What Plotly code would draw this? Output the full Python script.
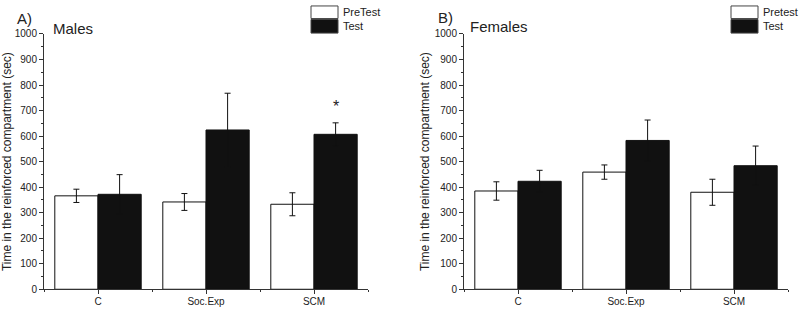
import plotly.graph_objects as go

categories = ["C", "Soc.Exp", "SCM"]

males_pre = [366, 342, 333]
males_pre_err = [26, 33, 45]
males_test = [372, 624, 607]
males_test_err = [77, 144, 45]

females_pre = [385, 459, 380]
females_pre_err = [36, 28, 51]
females_test = [423, 583, 484]
females_test_err = [43, 80, 77]

y_ticks = list(range(0, 1001, 100))
star_y = 716

x_pos = list(range(len(categories)))
FONT = "Liberation Sans, Arial, sans-serif"

fig = go.Figure()

def add_panel(pre, pre_err, test, test_err, xa, ya):
    fig.add_trace(go.Bar(
        x=x_pos, y=pre, xaxis=xa, yaxis=ya, width=0.4, offset=-0.4,
        marker=dict(color="white", line=dict(color="#111", width=1)),
        error_y=dict(type="data", array=pre_err, color="#111", thickness=1, width=3),
        showlegend=False))
    fig.add_trace(go.Bar(
        x=x_pos, y=test, xaxis=xa, yaxis=ya, width=0.4, offset=0.0,
        marker=dict(color="#111111", line=dict(color="#111", width=1)),
        error_y=dict(type="data", array=test_err, color="#111", thickness=1, width=3),
        showlegend=False))

add_panel(males_pre, males_pre_err, males_test, males_test_err, "x", "y")
add_panel(females_pre, females_pre_err, females_test, females_test_err, "x2", "y2")

ydom = [0.0587, 0.904]
xcommon = dict(
    range=[-0.5, 2.5], tickmode="array", tickvals=x_pos, ticktext=categories,
    showline=True, linecolor="#333", linewidth=1, ticks="outside", ticklen=4,
    tickcolor="#333", showgrid=False, zeroline=False, ticklabelstandoff=-1,
    tickfont=dict(family=FONT, size=10, color="#222"),
    minor=dict(tickmode="linear", tick0=0.5, dtick=1, ticks="outside", ticklen=2,
               tickcolor="#333", showgrid=False),
)
ycommon = dict(
    range=[0, 1000], tickmode="array", tickvals=y_ticks,
    showline=True, linecolor="#333", linewidth=1, ticks="outside", ticklen=4,
    tickcolor="#333", showgrid=False, zeroline=False,
    tickfont=dict(family=FONT, size=10, color="#222"),
    minor=dict(tickmode="linear", tick0=50, dtick=100, ticks="outside", ticklen=2,
               tickcolor="#333", showgrid=False),
    title=dict(text="Time in the reinforced compartment (sec)",
               font=dict(family=FONT, size=12, color="#222"), standoff=2),
)

fig.update_layout(
    width=800, height=312, margin=dict(l=0, r=0, t=0, b=0),
    paper_bgcolor="white", plot_bgcolor="white", barmode="overlay",
    xaxis=dict(domain=[0.055, 0.46], anchor="y", **xcommon),
    yaxis=dict(domain=ydom, anchor="x", **ycommon),
    xaxis2=dict(domain=[0.58, 0.985], anchor="y2", **xcommon),
    yaxis2=dict(domain=ydom, anchor="x2", **ycommon),
    font=dict(family=FONT, color="#222"),
)

def legend(x0, label_pre):
    shapes = [
        dict(type="rect", xref="paper", yref="paper", x0=x0 / 800, x1=(x0 + 27) / 800,
             y0=1 - 14 / 312, y1=1 - 1 / 312, fillcolor="white", line=dict(color="#444", width=1)),
        dict(type="rect", xref="paper", yref="paper", x0=x0 / 800, x1=(x0 + 27) / 800,
             y0=1 - 29 / 312, y1=1 - 15 / 312, fillcolor="#111", line=dict(color="#444", width=1)),
    ]
    anns = [
        dict(text=label_pre, x=(x0 + 30) / 800, y=1 - 7.5 / 312, xref="paper", yref="paper",
             xanchor="left", yanchor="middle", showarrow=False, font=dict(family=FONT, size=11, color="#222")),
        dict(text="Test", x=(x0 + 30) / 800, y=1 - 22 / 312, xref="paper", yref="paper",
             xanchor="left", yanchor="middle", showarrow=False, font=dict(family=FONT, size=11, color="#222")),
    ]
    return shapes, anns

s1, a1 = legend(311, "PreTest")
s2, a2 = legend(731, "Pretest")

titles = [
    dict(text="A)", x=15 / 800, y=1 - 14 / 312, xref="paper", yref="paper", xanchor="left",
         yanchor="middle", showarrow=False, font=dict(family=FONT, size=15, color="#222")),
    dict(text="Males", x=51 / 800, y=1 - 24 / 312, xref="paper", yref="paper", xanchor="left",
         yanchor="middle", showarrow=False, font=dict(family=FONT, size=15, color="#222")),
    dict(text="B)", x=436 / 800, y=1 - 13 / 312, xref="paper", yref="paper", xanchor="left",
         yanchor="middle", showarrow=False, font=dict(family=FONT, size=15, color="#222")),
    dict(text="Females", x=468 / 800, y=1 - 22 / 312, xref="paper", yref="paper", xanchor="left",
         yanchor="middle", showarrow=False, font=dict(family=FONT, size=15, color="#222")),
    dict(text="*", x=x_pos[2] + 0.2, y=star_y, xref="x", yref="y", showarrow=False,
         font=dict(family=FONT, size=16, color="#222")),
]

fig.update_layout(shapes=s1 + s2, annotations=a1 + a2 + titles)

fig.write_html("out.html", config={"displayModeBar": False},
               post_script="document.body.style.margin='0';")
